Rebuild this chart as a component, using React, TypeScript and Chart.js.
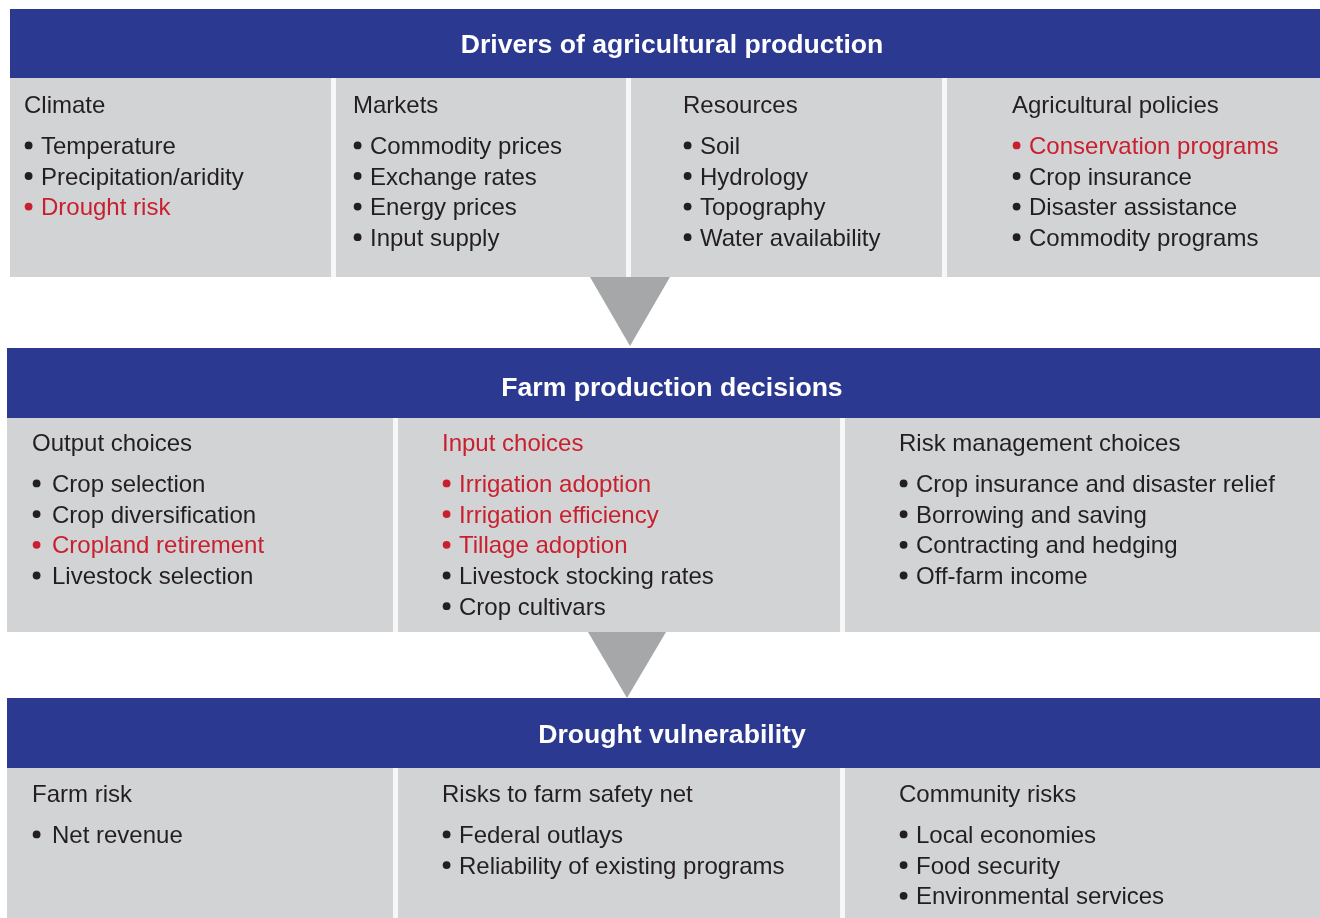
import React, { useEffect, useRef } from "react";
import { Chart, registerables } from "chart.js";

Chart.register(...registerables);

// ---------- content (text) ----------
const headerTitles = [
  "Drivers of agricultural production",
  "Farm production decisions",
  "Drought vulnerability",
];

const driverHeadings = ["Climate", "Markets", "Resources", "Agricultural policies"];
const climateItems = ["Temperature", "Precipitation/aridity", "Drought risk"];
const marketItems = ["Commodity prices", "Exchange rates", "Energy prices", "Input supply"];
const resourceItems = ["Soil", "Hydrology", "Topography", "Water availability"];
const policyItems = ["Conservation programs", "Crop insurance", "Disaster assistance", "Commodity programs"];

const decisionHeadings = ["Output choices", "Input choices", "Risk management choices"];
const outputItems = ["Crop selection", "Crop diversification", "Cropland retirement", "Livestock selection"];
const inputItems = ["Irrigation adoption", "Irrigation efficiency", "Tillage adoption", "Livestock stocking rates", "Crop cultivars"];
const riskItems = ["Crop insurance and disaster relief", "Borrowing and saving", "Contracting and hedging", "Off-farm income"];

const vulnerabilityHeadings = ["Farm risk", "Risks to farm safety net", "Community risks"];
const farmRiskItems = ["Net revenue"];
const safetyNetItems = ["Federal outlays", "Reliability of existing programs"];
const communityItems = ["Local economies", "Food security", "Environmental services"];

const highlighted = [
  "Drought risk",
  "Conservation programs",
  "Input choices",
  "Irrigation adoption",
  "Irrigation efficiency",
  "Tillage adoption",
  "Cropland retirement",
];

const rowHeadings = [driverHeadings, decisionHeadings, vulnerabilityHeadings];
const rowItems = [
  [climateItems, marketItems, resourceItems, policyItems],
  [outputItems, inputItems, riskItems],
  [farmRiskItems, safetyNetItems, communityItems],
];

// ---------- layout (positions in canvas units) ----------
const W = 1320;
const H = 918;
const rowLayout = [
  {
    header: [10, 1320, 9, 78],
    panelY: [78, 277],
    cols: [[10, 331], [336, 626], [631, 942], [947, 1320]],
    textX: [24, 353, 683, 1012],
    itemOffset: [17, 17, 17, 17],
    headingBase: 112.5,
    itemBase: 154,
    step: 30.6,
  },
  {
    header: [7, 1320, 348, 418],
    panelY: [418, 632],
    cols: [[7, 393], [398, 840], [845, 1320]],
    textX: [32, 442, 899],
    itemOffset: [20, 17, 17],
    headingBase: 451,
    itemBase: 492,
    step: 30.7,
  },
  {
    header: [7, 1320, 698, 768],
    panelY: [768, 918],
    cols: [[7, 393], [398, 840], [845, 1320]],
    textX: [32, 442, 899],
    itemOffset: [20, 17, 17],
    headingBase: 802,
    itemBase: 843,
    step: 30.7,
  },
];
const arrows = [
  [590, 670, 277, 630, 346],
  [588, 666, 632, 627, 698],
];
const titleX = 672;
const titleBaselines = [53, 396, 743];

const BLUE = "#2b3990";
const PANEL = "#d1d3d4";
const GAP = "#f7f7f7";
const ARROW = "#a6a7a9";
const RED = "#c9202f";
const TEXT = "#231f20";
const FONT = 'Arial, "Liberation Sans", Helvetica, sans-serif';

const diagramPlugin = {
  id: "diagram",
  beforeDatasetsDraw(chart: any) {
    const { ctx } = chart;
    const xs = chart.scales.x;
    const ys = chart.scales.y;
    const X = (v: number) => xs.getPixelForValue(v);
    const Y = (v: number) => ys.getPixelForValue(v);
    const rect = (x0: number, x1: number, y0: number, y1: number, color: string) => {
      ctx.fillStyle = color;
      ctx.fillRect(X(x0), Y(y0), X(x1) - X(x0), Y(y1) - Y(y0));
    };
    ctx.save();
    rect(0, W, 0, H, "#ffffff");

    rowLayout.forEach((r, ri) => {
      const [hx0, hx1, hy0, hy1] = r.header;
      rect(hx0, hx1, hy0, hy1, BLUE);
      rect(r.cols[0][0], r.cols[r.cols.length - 1][1], r.panelY[0], r.panelY[1], GAP);
      r.cols.forEach(([c0, c1]) => rect(c0, c1, r.panelY[0], r.panelY[1], PANEL));

      ctx.fillStyle = "#ffffff";
      ctx.font = `bold 26.6px ${FONT}`;
      ctx.textAlign = "center";
      ctx.textBaseline = "alphabetic";
      ctx.fillText(headerTitles[ri], X(titleX), Y(titleBaselines[ri]));

      ctx.textAlign = "left";
      ctx.font = `24px ${FONT}`;
      rowHeadings[ri].forEach((h, ci) => {
        ctx.fillStyle = highlighted.includes(h) ? RED : TEXT;
        ctx.fillText(h, X(r.textX[ci]), Y(r.headingBase));
        rowItems[ri][ci].forEach((it, ii) => {
          const by = r.itemBase + ii * r.step;
          ctx.fillStyle = highlighted.includes(it) ? RED : TEXT;
          ctx.beginPath();
          ctx.arc(X(r.textX[ci] + 4.6), Y(by - 8.6), 3.9, 0, Math.PI * 2);
          ctx.fill();
          ctx.fillText(it, X(r.textX[ci] + r.itemOffset[ci]), Y(by));
        });
      });
    });

    arrows.forEach(([x0, x1, yt, ax, ay]) => {
      ctx.fillStyle = ARROW;
      ctx.beginPath();
      ctx.moveTo(X(x0), Y(yt));
      ctx.lineTo(X(x1), Y(yt));
      ctx.lineTo(X(ax), Y(ay));
      ctx.closePath();
      ctx.fill();
    });
    ctx.restore();
  },
};

export default function App() {
  const ref = useRef<HTMLCanvasElement | null>(null);
  useEffect(() => {
    if (!ref.current) return;
    const chart = new Chart(ref.current, {
      type: "scatter",
      data: { datasets: [{ data: [] }] },
      options: {
        animation: false,
        responsive: true,
        maintainAspectRatio: false,
        layout: { padding: 0 },
        events: [],
        plugins: { legend: { display: false }, tooltip: { enabled: false } },
        scales: {
          x: { type: "linear", min: 0, max: W, display: false },
          y: { type: "linear", min: 0, max: H, reverse: true, display: false },
        },
      },
      plugins: [diagramPlugin],
    });
    return () => chart.destroy();
  }, []);
  return (
    <div style={{ position: "fixed", left: 0, top: 0, width: W, height: H, background: "#fff" }}>
      <canvas ref={ref} />
    </div>
  );
}
